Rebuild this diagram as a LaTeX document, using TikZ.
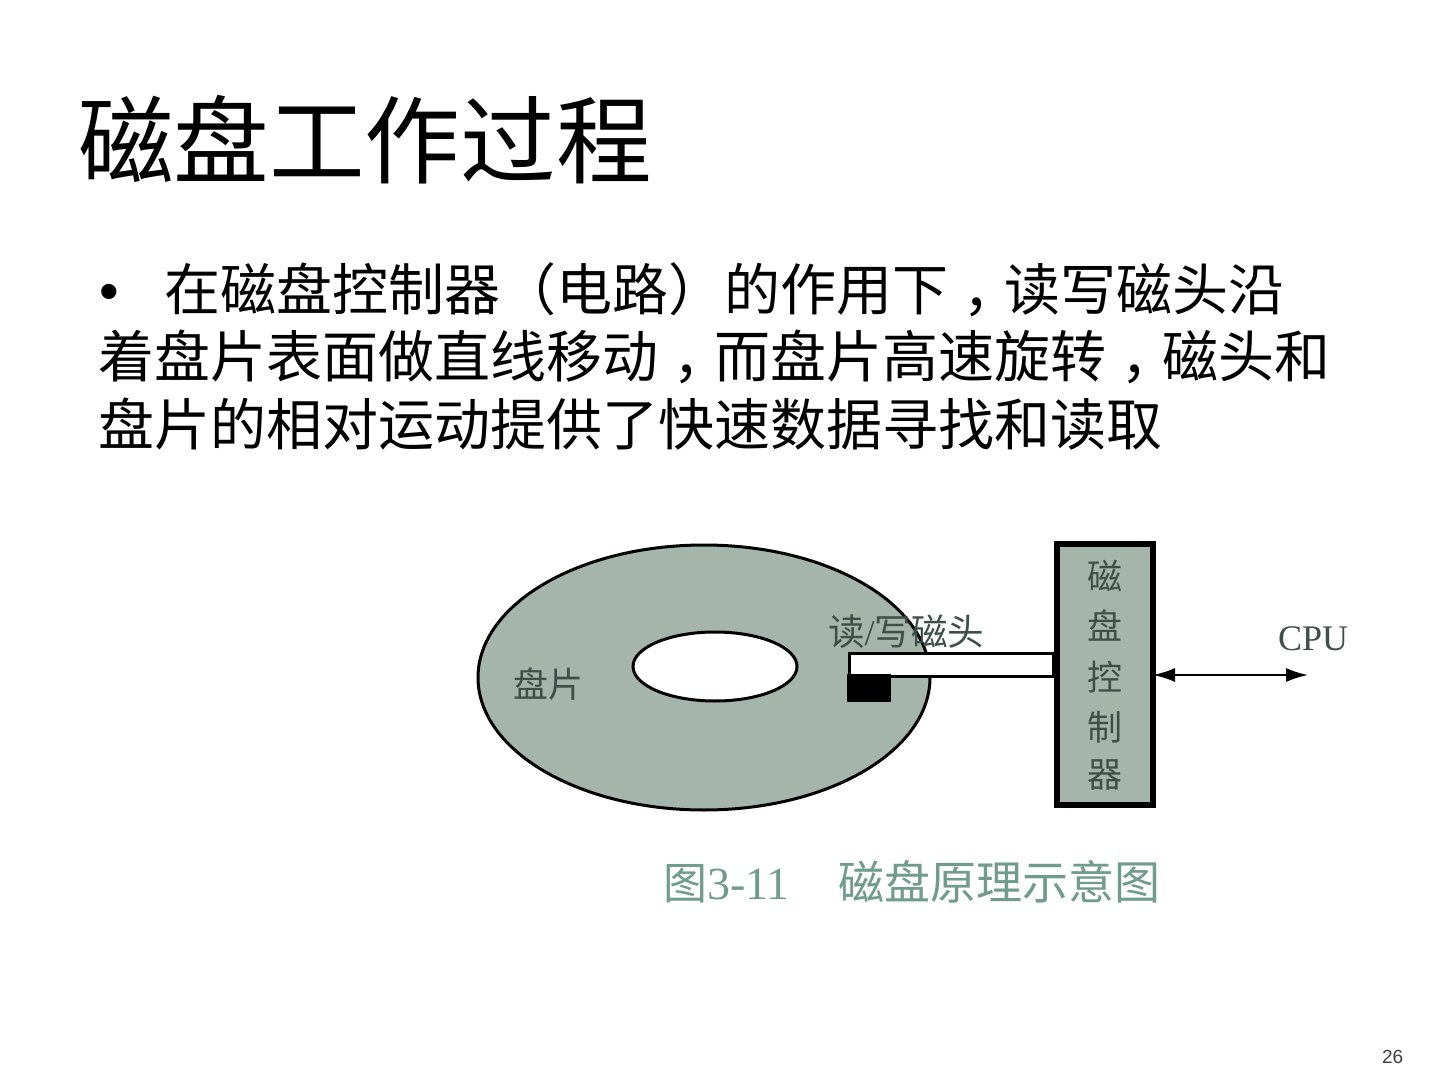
\documentclass[tikz,border=0pt]{standalone}
\usepackage{fontspec}
\usetikzlibrary{shapes.geometric,arrows.meta}
\setmainfont{Liberation Sans}
\newfontfamily\cjk{Noto Sans CJK SC}
\newfontfamily\cjktc{Noto Sans CJK TC}
\newfontfamily\serifl{Liberation Serif}
\definecolor{diskfill}{HTML}{A5B5AC}
\definecolor{labelink}{HTML}{3E4E48}
\definecolor{capink}{HTML}{6F9C8D}
\tikzset{
  txt/.style={inner sep=0pt,outer sep=0pt,anchor=base west},
  titletxt/.style={txt,font=\cjk\fontsize{47.8}{50}\selectfont},
  bodytxt/.style={txt,font=\cjk\fontsize{28}{30}\selectfont},
  disk/.style={ellipse,draw=black,line width=1.5pt,inner sep=0pt,outer sep=0pt},
  lbl/.style={inner sep=0pt,outer sep=0pt,text=labelink,font=\cjk\fontsize{17.5}{25}\selectfont},
  captxt/.style={txt,text=capink,font=\cjk\fontsize{22}{24}\selectfont},
  dbl/.style={{Latex[length=11pt,width=7pt]}-{Latex[length=11pt,width=7pt]},line width=1pt}
}
\newcommand{\cm}{{\cjktc\smash{\raisebox{-0.3em}{，}}}}
\begin{document}
\begin{tikzpicture}[x=0.5pt,y=-0.5pt]
\useasboundingbox (0,0) rectangle (1440,1080);
\fill[white] (0,0) rectangle (1440,1080);
\node[titletxt] (title) at (78,177) {磁盘工作过程};
\node[txt,font=\fontsize{28}{30}\selectfont] (bullet) at (99,311) {•};
\node[bodytxt] (l1) at (164,311) {在磁盘控制器（电路）的作用下\cm 读写磁头沿};
\node[bodytxt] (l2) at (98,378) {着盘片表面做直线移动\cm 而盘片高速旋转\cm 磁头和};
\node[bodytxt] (l3) at (98,445) {盘片的相对运动提供了快速数据寻找和读取};
% disk
\node[disk,fill=diskfill,minimum width=226pt,minimum height=132.5pt] (outer) at (704,677.5) {};
\node[disk,fill=white,minimum width=82pt,minimum height=34.5pt] (inner) at (715,666.5) {};
\node[lbl] (platter) at (548,684) {盘片};
\node[lbl,anchor=base west,font=\cjk\fontsize{18.3}{25}\selectfont] (headlbl) at (828,645) {读{\serifl /}写磁头};
% arm and head
\node[draw=black,fill=white,line width=1.5pt,minimum width=102pt,minimum height=11.5pt,inner sep=0pt,outer sep=0pt] (arm) at (951,664.5) {};
\node[fill=black,minimum width=22pt,minimum height=14pt,inner sep=0pt,outer sep=0pt] (rwhead) at (869,688) {};
% controller
\node[draw=black,fill=diskfill,line width=3pt,minimum width=48pt,minimum height=130.5pt,inner sep=0pt,outer sep=0pt] (ctrl) at (1105,674.5) {};
\node[lbl] (c1) at (1105,576) {磁};
\node[lbl] (c2) at (1105,626) {盘};
\node[lbl] (c3) at (1105,677) {控};
\node[lbl] (c4) at (1105,727) {制};
\node[lbl] (c5) at (1105,775) {器};
% CPU
\node[lbl,font=\serifl\fontsize{18}{20}\selectfont] (cpu) at (1313,639) {CPU};
\coordinate (cpuend) at (1308,675);
\draw[dbl] (ctrl.east |- cpuend) -- (cpuend);
% caption
\node[captxt] (cap1) at (663,899) {图{\serifl\fontsize{23}{24}\selectfont 3-11}};
\node[captxt] (cap2) at (838,899) {\fontsize{23}{24}\selectfont 磁盘原理示意图};
\node[txt,text=black!75,font=\fontsize{9.5}{11}\selectfont] (page) at (1382,1063) {26};
\end{tikzpicture}
\end{document}
